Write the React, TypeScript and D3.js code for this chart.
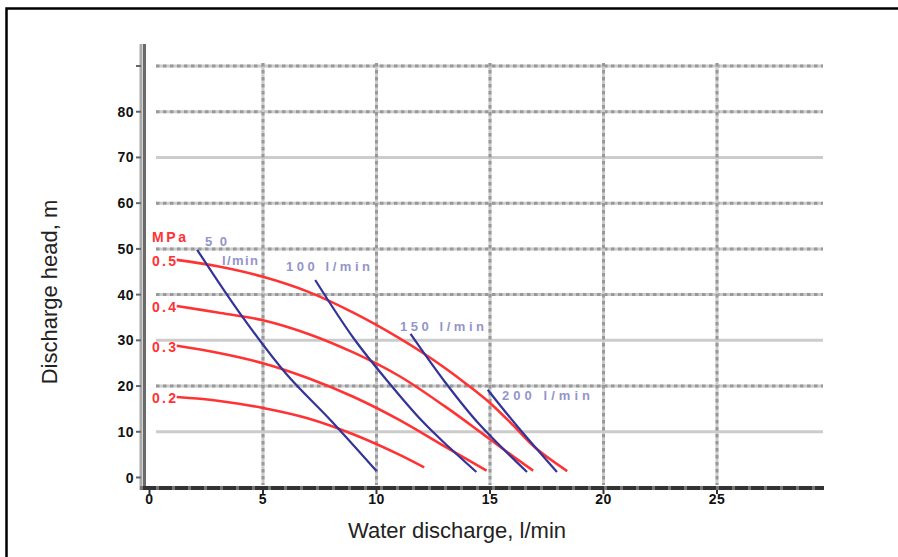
import React from "react";
import * as d3 from "d3";

const xTicks = [0, 5, 10, 15, 20, 25];
const yTicks = [0, 10, 20, 30, 40, 50, 60, 70, 80];
const gridRowsDotted = [20, 40, 50, 60, 80, 90];
const gridRowsSolid = [10, 30, 70];
const gridCols = [5, 10, 15, 20, 25];

const pressureLabels = ["0.5", "0.4", "0.3", "0.2"];
const p05x = [1.2, 3, 5, 7, 9, 11, 12, 13, 14, 15, 16, 17, 18.4];
const p05y = [47.6, 46.2, 43.9, 40.6, 36.0, 30.5, 27.4, 24.0, 20.3, 16.3, 11.5, 6.5, 1.4];
const p04x = [1.2, 3, 5, 7, 9, 11, 13, 14.5, 15.5, 16.9];
const p04y = [37.5, 36.1, 34.4, 31.4, 27.3, 22.2, 15.6, 10.2, 6.5, 1.5];
const p03x = [1.2, 3, 5, 7, 9, 11, 13, 14.85];
const p03y = [28.8, 27.3, 25.0, 21.7, 17.6, 12.6, 6.8, 1.5];
const p02x = [1.2, 3, 5, 7, 9, 11, 12.1];
const p02y = [17.6, 16.8, 15.2, 12.9, 9.4, 5.0, 2.2];

const airLabels = ["50", "100 l/min", "150 l/min", "200 l/min"];
const a50x = [2.1, 4, 6, 8, 10];
const a50y = [49.8, 35.8, 22.8, 12.4, 1.4];
const a100x = [7.3, 9, 10.5, 12, 13.2, 14.4];
const a100y = [43.2, 30.4, 21.0, 12.4, 6.6, 1.2];
const a150x = [11.5, 13, 14.5, 16.63];
const a150y = [31.4, 21.0, 11.8, 1.2];
const a200x = [14.9, 16.2, 17.95];
const a200y = [19.2, 11.2, 1.2];

const zip = (xs: number[], ys: number[]) => xs.map((x, i) => [x, ys[i]] as [number, number]);

export default function App() {
  const x = d3.scaleLinear().domain([0, 25]).range([149.5, 717]);
  const y = d3.scaleLinear().domain([0, 90]).range([477.5, 66]);
  const line = d3
    .line<[number, number]>()
    .x((d) => x(d[0]))
    .y((d) => y(d[1]))
    .curve(d3.curveCatmullRom.alpha(0.5));

  const redSeries = [zip(p05x, p05y), zip(p04x, p04y), zip(p03x, p03y), zip(p02x, p02y)];
  const blueSeries = [zip(a50x, a50y), zip(a100x, a100y), zip(a150x, a150y), zip(a200x, a200y)];

  const gx0 = 156;
  const gx1 = 823;
  const red = "#ff3333";
  const blue = "#33339a";
  const blueText = "#9494cc";
  const ff = "'Liberation Sans', Arial, sans-serif";
  const tickFont = { fontFamily: ff, fontWeight: 700, fontSize: 14 };

  return (
    <svg
      width={898}
      height={557}
      style={{ position: "absolute", left: 0, top: 0, background: "#fff" }}
    >
      <rect x={6.5} y={8.5} width={900} height={560} fill="#fff" stroke="#000" strokeWidth={2.5} />

      {/* horizontal gridlines */}
      {gridRowsSolid.map((v) => (
        <line key={"hs" + v} x1={gx0} x2={gx1} y1={y(v)} y2={y(v)} stroke="#cccccc" strokeWidth={3} />
      ))}
      {gridRowsDotted.map((v) => (
        <g key={"hd" + v}>
          <line x1={gx0} x2={gx1} y1={y(v)} y2={y(v)} stroke="#cccccc" strokeWidth={3} />
          <line x1={gx0} x2={gx1} y1={y(v)} y2={y(v)} stroke="#999999" strokeWidth={3} strokeDasharray="3.5 3.5" />
        </g>
      ))}
      {/* vertical gridlines */}
      {gridCols.map((v) => (
        <g key={"v" + v}>
          <line x1={x(v)} x2={x(v)} y1={63} y2={485} stroke="#cccccc" strokeWidth={3} />
          <line x1={x(v)} x2={x(v)} y1={63} y2={485} stroke="#999999" strokeWidth={3} strokeDasharray="3.5 3.5" />
        </g>
      ))}

      {/* y axis */}
      <line x1={141} x2={141} y1={44} y2={490} stroke="#aaaaaa" strokeWidth={3} />
      <line x1={144.5} x2={144.5} y1={44} y2={490} stroke="#6a6a6a" strokeWidth={3} />
      {yTicks.concat([90]).map((v) => (
        <line key={"yt" + v} x1={136} x2={141} y1={y(v)} y2={y(v)} stroke="#666" strokeWidth={2} />
      ))}
      {yTicks.map((v) => (
        <text key={"yl" + v} x={134} y={y(v)} dy="0.36em" textAnchor="end" fill="#111" style={tickFont} letterSpacing={0.5}>
          {v}
        </text>
      ))}

      {/* x axis */}
      <line x1={140} x2={824} y1={488} y2={488} stroke="#333" strokeWidth={4} />
      <line x1={140} x2={824} y1={488} y2={488} stroke="#777" strokeWidth={4} strokeDasharray="3 13" />
      {xTicks.map((v) => (
        <line key={"xt" + v} x1={x(v)} x2={x(v)} y1={490} y2={494} stroke="#333" strokeWidth={2} />
      ))}
      {xTicks.map((v) => (
        <text key={"xl" + v} x={x(v)} y={499} dy="0.36em" textAnchor="middle" fill="#111" style={tickFont} letterSpacing={0.5}>
          {v}
        </text>
      ))}

      {/* curves */}
      {redSeries.map((s, i) => (
        <path key={"r" + i} d={line(s) || ""} fill="none" stroke={red} strokeWidth={2.6} />
      ))}
      {blueSeries.map((s, i) => (
        <path key={"b" + i} d={line(s) || ""} fill="none" stroke={blue} strokeWidth={2.2} />
      ))}

      {/* pressure labels */}
      <text x={152} y={242} fill={red} style={{ ...tickFont, fontSize: 14 }} textLength={34} lengthAdjust="spacing">
        MPa
      </text>
      {pressureLabels.map((t, i) => (
        <text
          key={"pl" + i}
          x={152}
          y={y(redSeries[i][0][1]) + 1}
          dy="0.36em"
          fill={red}
          style={{ ...tickFont, fontSize: 14 }}
          textLength={24}
          lengthAdjust="spacing"
        >
          {t}
        </text>
      ))}

      {/* air consumption labels */}
      <text x={205} y={241} dy="0.36em" fill={blueText} style={{ ...tickFont, fontSize: 13 }} textLength={22} lengthAdjust="spacing">
        {airLabels[0]}
      </text>
      <text x={222} y={260} dy="0.36em" fill={blueText} style={{ ...tickFont, fontSize: 13 }} textLength={36} lengthAdjust="spacing">
        l/min
      </text>
      <text x={286} y={266} dy="0.36em" fill={blueText} style={{ ...tickFont, fontSize: 13 }} textLength={84} lengthAdjust="spacing">
        {airLabels[1]}
      </text>
      <text x={400} y={326} dy="0.36em" fill={blueText} style={{ ...tickFont, fontSize: 13 }} textLength={84} lengthAdjust="spacing">
        {airLabels[2]}
      </text>
      <text x={502} y={395} dy="0.36em" fill={blueText} style={{ ...tickFont, fontSize: 13 }} textLength={88} lengthAdjust="spacing">
        {airLabels[3]}
      </text>

      {/* axis titles */}
      <text
        transform="translate(57,292) rotate(-90)"
        textAnchor="middle"
        fill="#222"
        style={{ fontFamily: ff, fontSize: 22 }}
      >
        Discharge head, m
      </text>
      <text x={457} y={538} textAnchor="middle" fill="#222" style={{ fontFamily: ff, fontSize: 22 }}>
        Water discharge, l/min
      </text>
    </svg>
  );
}
